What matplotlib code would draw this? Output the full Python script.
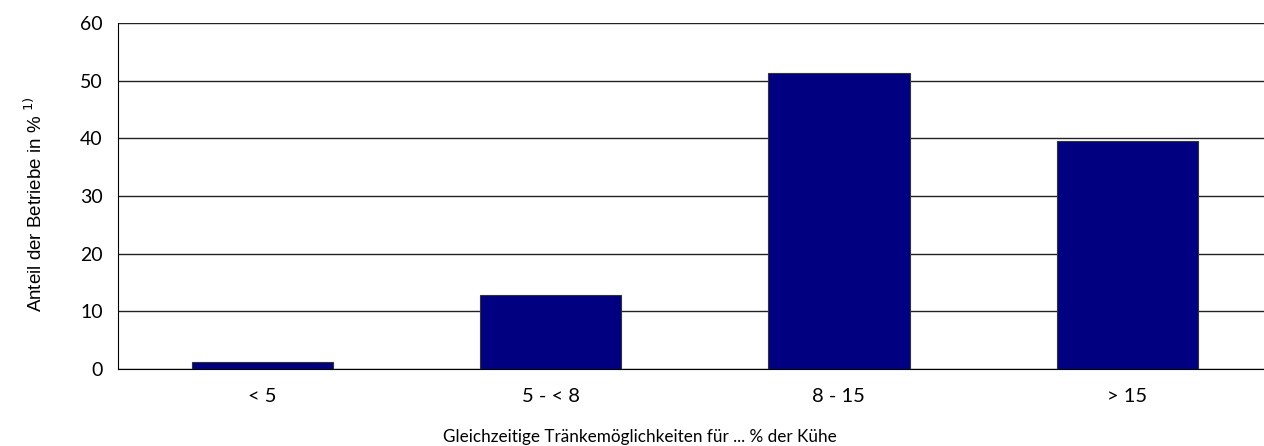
import matplotlib
matplotlib.use('Agg')
import matplotlib.pyplot as plt

categories = ['< 5', '5 - < 8', '8 - 15', '> 15']
anteil = [1.2, 12.9, 51.3, 39.5]

plt.rcParams['font.family'] = ['Lato', 'DejaVu Sans']

fig = plt.figure(figsize=(12.64, 4.46), dpi=100)
ax = fig.add_axes([118/1264, 77/446, 1153.5/1264, 346/446])

x = range(len(categories))
ax.bar(x, anteil, width=0.49, color='#000080', edgecolor='#333333', lw=0.8, zorder=3)

ax.set_xlim(-0.5, 3.5)
ax.set_ylim(0, 60)
ax.set_yticks(range(0, 61, 10))
ax.set_xticks(list(x))
ax.set_xticklabels(categories)
ax.yaxis.grid(True, color='#222222', lw=1, zorder=0)
ax.tick_params(axis='y', length=0, labelsize=14, pad=11)
ax.tick_params(axis='x', length=0, labelsize=14.5, pad=14)

for s in ['top', 'right']:
    ax.spines[s].set_visible(False)
ax.spines['left'].set_color('black')
ax.spines['bottom'].set_color('black')

fig.text(35/1264, 1 - 204/446, 'Anteil der Betriebe in % $^{1)}$', rotation=90,
         ha='center', va='center', fontsize=13.5, family=['Liberation Sans', 'DejaVu Sans'])
fig.text(640/1264, 1 - 437/446, 'Gleichzeitige Tränkemöglichkeiten für ... % der Kühe',
         ha='center', va='center', fontsize=12.3)

fig.savefig('out.png', dpi=100)
